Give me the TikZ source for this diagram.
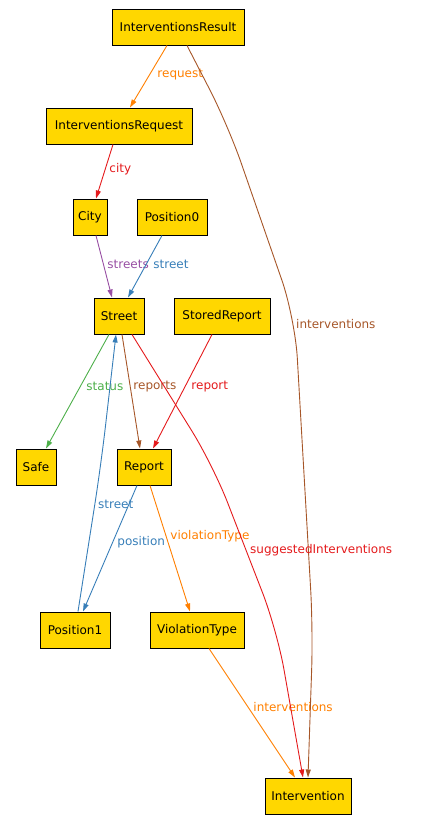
\documentclass[tikz,border=0pt]{standalone}
\usepackage{fontspec}
\setmainfont{DejaVu Sans}
\usetikzlibrary{arrows.meta}

\definecolor{boxfill}{HTML}{FFD700}
\definecolor{gvorange}{HTML}{FF7F00}
\definecolor{gvred}{HTML}{E41A1C}
\definecolor{gvblue}{HTML}{377EB8}
\definecolor{gvgreen}{HTML}{4DAF4A}
\definecolor{gvpurple}{HTML}{984EA3}
\definecolor{gvbrown}{HTML}{A65628}

\tikzset{
  box/.style={draw=black, fill=boxfill, line width=1pt, minimum height=36pt, inner sep=0pt},
  edge/.style={line width=0.9pt, -{Triangle[length=8pt,width=5pt]}},
  lbl/.style={anchor=west, inner sep=0pt, yshift=-1.5pt}
}

\begin{document}
\begin{tikzpicture}[x=1pt, y=-1pt, every node/.style={font=\fontsize{12}{14}\selectfont}]
    \useasboundingbox (0,0) rectangle (422,823);

    % Draw the classes as boxes
    \foreach \name/\x/\y/\w/\label in {res/178/27/132/InterventionsResult,
        req/119/126/146/InterventionsRequest, city/90/217/34/City,
        pos0/172/217/70/Position0, street/119/316/50/Street,
        stored/222/316/96/StoredReport, safe/36/467/40/Safe,
        report/144/467/54/Report, pos1/75/630/70/Position1,
        vtype/197/630/94/ViolationType, inter/308/796/86/Intervention} {
        \node[box, minimum width=\w pt] (\name) at (\x,\y) {\label};
    }

    % Straight references between classes
    \foreach \a/\sa/\b/\sb/\c/\lx/\ly/\t in {res/-11/req/11/gvorange/157/73/request,
        req/-6/city/6/gvred/109/168/city, city/6/street/-7/gvpurple/107/263/streets,
        pos0/-10/street/9/gvblue/153/263/street, street/-10/safe/10/gvgreen/86/385/status,
        street/3/report/-4/gvbrown/133/385/reports, stored/-10/report/9/gvred/191/385/report,
        report/-7/pos1/8/gvblue/117/541/position, report/6/vtype/-7/gvorange/170/535/violationType,
        vtype/12/inter/-13/gvorange/253/706/interventions} {
        \draw[edge, \c] ([xshift=\sa pt]\a.south) -- ([xshift=\sb pt]\b.north)
            node[lbl, text=\c] at (\lx,\ly) {\t};
    }

    % Longer references that bend
    \draw[edge, gvbrown, rounded corners=40pt] ([xshift=9pt]res.south) -- (228,125) -- (295,318)
        -- (313,630) -- (inter.north);
    \node[lbl, text=gvbrown] at (296,323) {interventions};
    \draw[edge, gvred, rounded corners=40pt] ([xshift=13pt]street.south) -- (213,465) -- (277,630)
        -- ([xshift=-5pt]inter.north);
    \node[lbl, text=gvred] at (250,549) {suggestedInterventions};
    \draw[edge, gvblue, rounded corners=40pt] ([xshift=3pt]pos1.north) -- (101,465)
        -- ([xshift=-3pt]street.south);
    \node[lbl, text=gvblue] at (98,503) {street};
\end{tikzpicture}
\end{document}
